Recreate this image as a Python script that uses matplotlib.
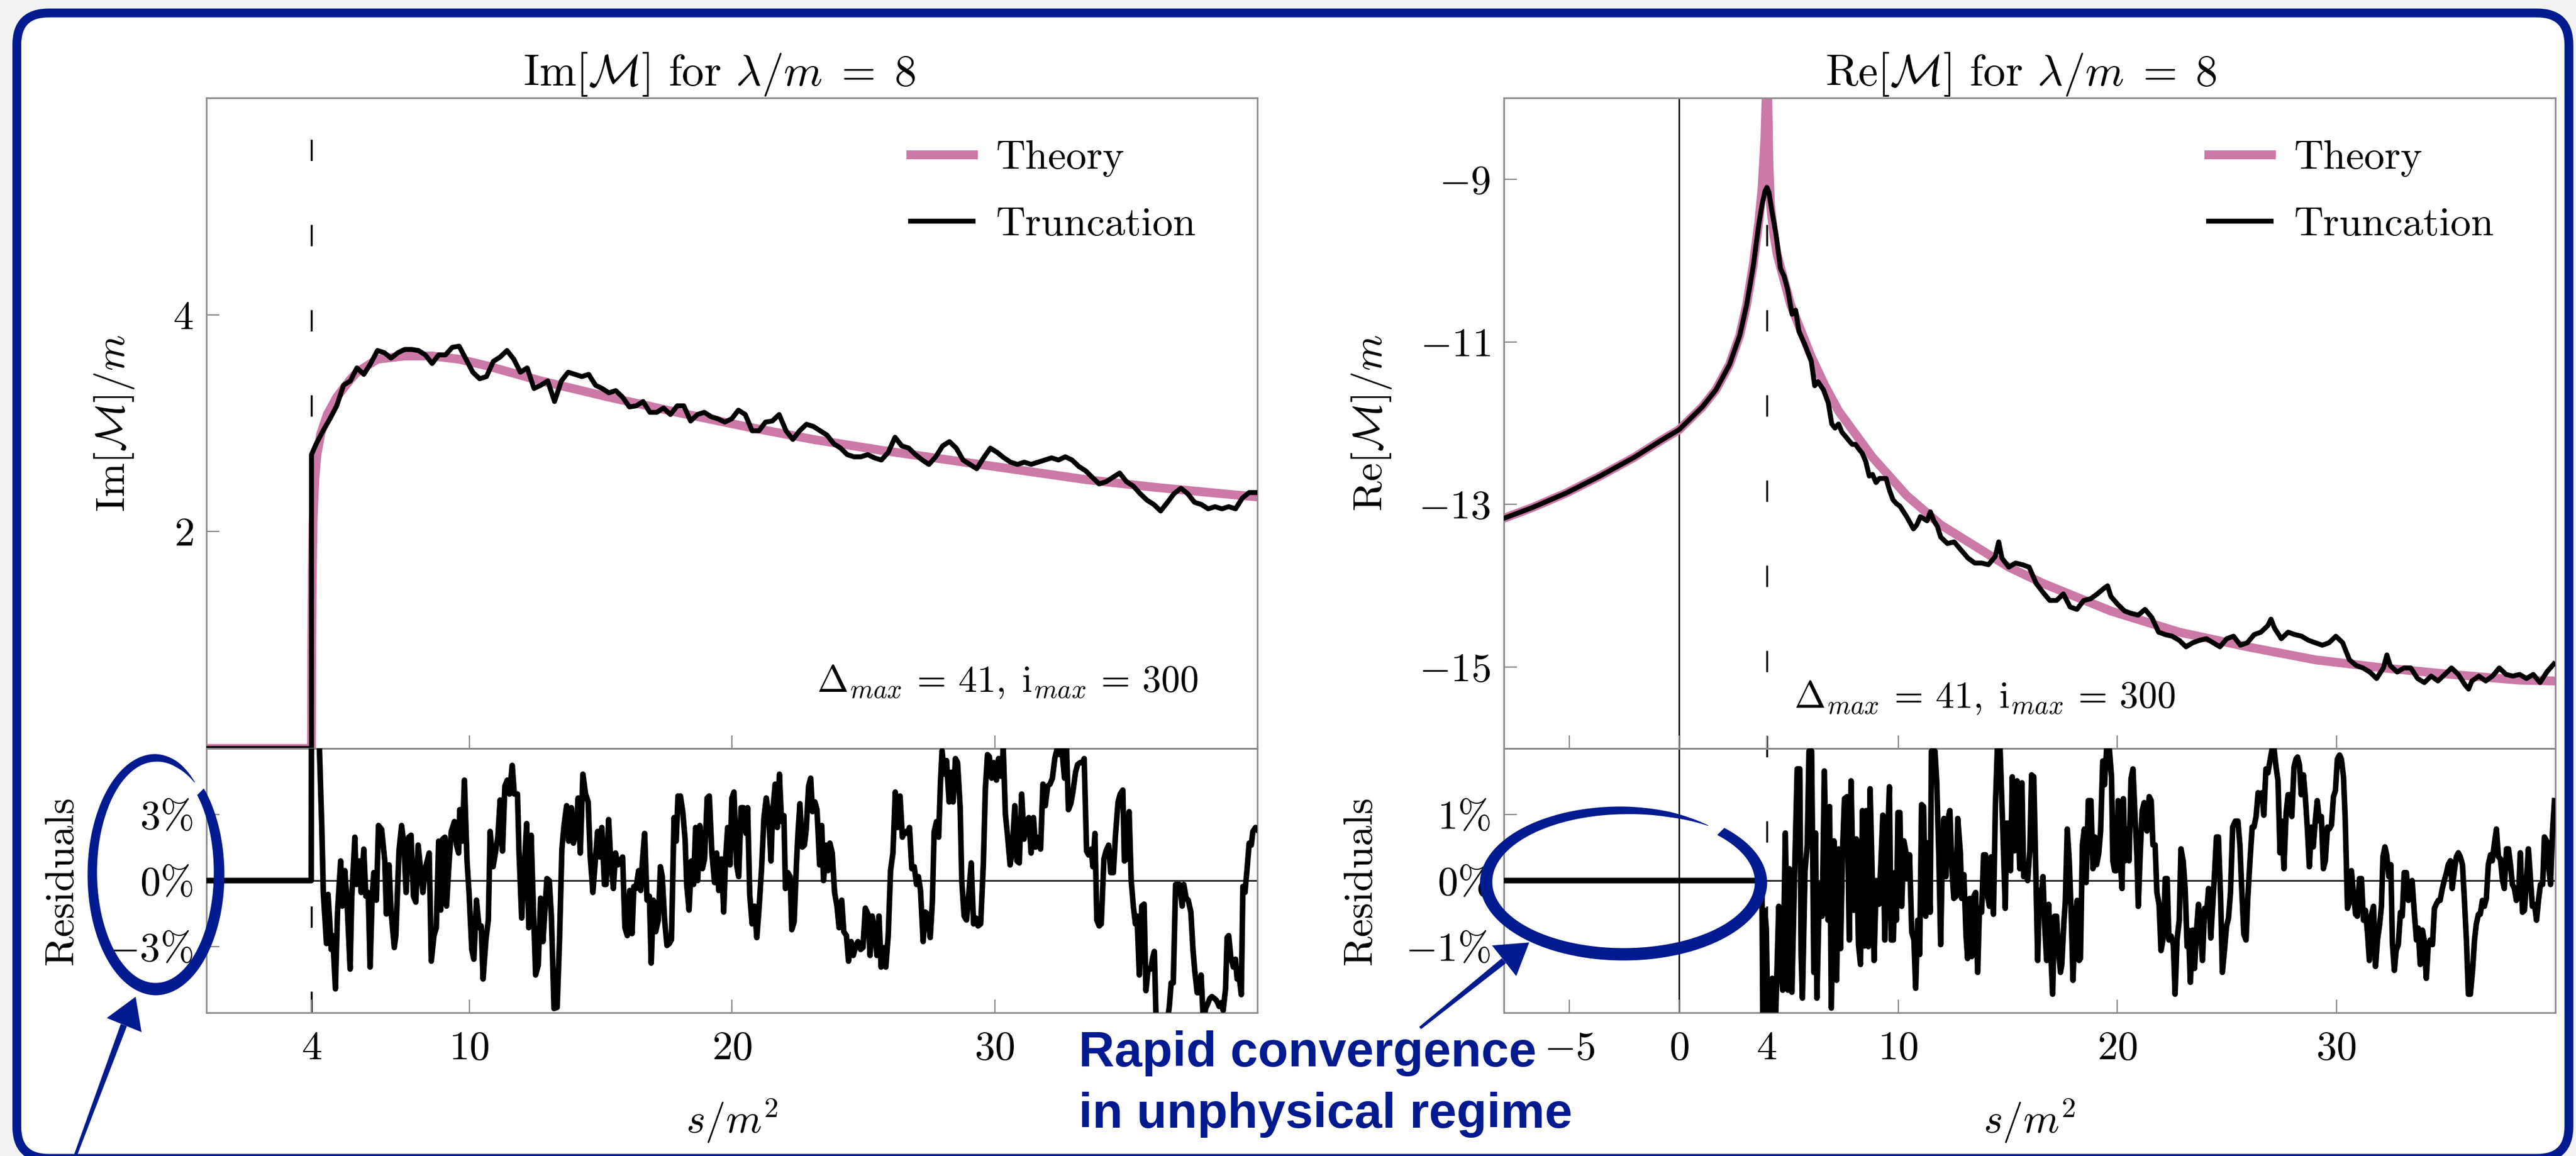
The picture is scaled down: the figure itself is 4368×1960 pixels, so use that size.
import numpy as np
import matplotlib
matplotlib.use("Agg")
import matplotlib.pyplot as plt
from matplotlib.patches import FancyBboxPatch, Polygon
from matplotlib.lines import Line2D
from matplotlib.transforms import blended_transform_factory

plt.rcParams['font.family'] = ['cmr10']
plt.rcParams['mathtext.fontset'] = 'cm'
plt.rcParams['axes.formatter.use_mathtext'] = True
plt.rcParams['lines.scale_dashes'] = False

PINK = '#cc79a7'
BLUE = '#001a8f'
GREY = '#8a8a8a'
FS = 25

# ---- Im[M]/m, lambda/m = 8 ----
S_IM_THEORY = [0.0, 4.0, 4.01, 4.03, 4.06, 4.12, 4.2, 4.35, 4.6, 4.96, 5.47, 5.73, 6.51,
               7.55, 8.58, 9.62, 10.66, 12.73, 15.32, 17.91, 20.50, 23.09, 25.69, 28.28,
               30.87, 33.46, 36.05, 38.64, 40.0]
IM_THEORY = [0.0, 0.0, 0.9, 1.6, 2.1, 2.45, 2.7, 2.9, 3.08, 3.24, 3.40, 3.47, 3.59,
             3.62, 3.62, 3.59, 3.53, 3.39, 3.24, 3.10, 2.97, 2.85, 2.75, 2.66,
             2.57, 2.48, 2.41, 2.35, 2.32]

S_IM_TRUNC = [0.0, 4.0, 4.0,
              4.18, 4.44, 4.70, 4.96, 5.22, 5.48, 5.73, 5.99, 6.25, 6.51, 6.77, 7.03, 7.29,
              7.55, 7.81, 8.07, 8.33, 8.59, 8.84, 9.10, 9.36, 9.62, 9.88, 10.14, 10.40,
              10.66, 10.92, 11.18, 11.44, 11.70, 11.95, 12.21, 12.47, 12.73, 12.99, 13.25,
              13.51, 13.77, 14.03, 14.29, 14.55, 14.81, 15.06, 15.32, 15.58, 15.84, 16.10,
              16.36, 16.62, 16.88, 17.14, 17.40, 17.66, 17.92, 18.17, 18.43, 18.69, 18.95,
              19.21, 19.47, 19.73, 19.99, 20.25, 20.51, 20.77, 21.03, 21.28, 21.54, 21.80,
              22.06, 22.32, 22.58, 22.84, 23.10, 23.36, 23.62, 23.88, 24.14, 24.39, 24.65,
              24.91, 25.17, 25.43, 25.69, 25.95, 26.21, 26.47, 26.73, 26.99, 27.25, 27.50,
              27.76, 28.02, 28.28, 28.54, 28.80, 29.06, 29.32, 29.58, 29.84, 30.10, 30.36,
              30.61, 30.87, 31.13, 31.39, 31.65, 31.91, 32.17, 32.43, 32.69, 32.95, 33.21,
              33.47, 33.72, 33.98, 34.24, 34.50, 34.76, 35.02, 35.28, 35.54, 35.80, 36.06,
              36.32, 36.58, 36.83, 37.09, 37.35, 37.61, 37.87, 38.13, 38.39, 38.65, 38.91,
              39.17, 39.43, 39.69, 39.94]
IM_TRUNC = [0.0, 0.0, 2.71,
            2.81, 2.93, 3.04, 3.16, 3.35, 3.39, 3.51, 3.45, 3.55, 3.67, 3.65, 3.60, 3.65,
            3.68, 3.68, 3.67, 3.63, 3.55, 3.63, 3.63, 3.70, 3.71, 3.59, 3.47, 3.41,
            3.43, 3.57, 3.61, 3.67, 3.59, 3.47, 3.51, 3.32, 3.35, 3.39, 3.20,
            3.39, 3.47, 3.45, 3.43, 3.45, 3.35, 3.32, 3.28, 3.30, 3.24, 3.15,
            3.16, 3.20, 3.10, 3.10, 3.14, 3.08, 3.16, 3.16, 3.02, 3.08, 3.10,
            3.06, 3.04, 3.01, 3.04, 3.12, 3.08, 2.93, 2.93, 3.01, 3.02, 3.08,
            2.93, 2.85, 2.93, 2.99, 2.97, 2.93, 2.89, 2.81, 2.77, 2.71, 2.69,
            2.69, 2.71, 2.68, 2.66, 2.73, 2.87, 2.79, 2.77, 2.71, 2.66, 2.62,
            2.69, 2.79, 2.83, 2.77, 2.66, 2.62, 2.58, 2.68, 2.77, 2.73, 2.68,
            2.64, 2.62, 2.64, 2.62, 2.64, 2.66, 2.68, 2.66, 2.69, 2.66, 2.60,
            2.56, 2.50, 2.44, 2.46, 2.50, 2.54, 2.46, 2.42, 2.35, 2.29, 2.25,
            2.19, 2.27, 2.35, 2.40, 2.35, 2.27, 2.25, 2.21, 2.23, 2.21, 2.23,
            2.21, 2.31, 2.36, 2.36]

# residuals in percent
S_IM_RES = [0.0, 3.99, 4.0, 4.25, 4.39, 4.45, 4.57, 4.63, 4.69, 4.75, 4.81, 4.91, 4.99,
            5.11, 5.17, 5.27, 5.35, 5.47, 5.53, 5.65, 5.71, 5.83, 5.89, 5.99, 6.07, 6.16,
            6.23, 6.31, 6.37, 6.47, 6.55, 6.67, 6.79, 6.85, 6.95, 7.03, 7.15, 7.21, 7.33,
            7.43, 7.52, 7.60, 7.70, 7.79, 7.88, 7.97, 8.06, 8.15, 8.24, 8.33, 8.48, 8.56,
            8.66, 8.75, 8.84, 8.92, 8.99, 9.08, 9.14, 9.23, 9.32, 9.44, 9.52, 9.60, 9.64,
            9.74, 9.82, 9.92, 10.00, 10.10, 10.18, 10.28, 10.38, 10.46, 10.53, 10.64,
            10.73, 10.80, 10.91, 11.00, 11.09, 11.18, 11.27, 11.36, 11.45, 11.54, 11.64,
            11.72, 11.84, 11.90, 12.00, 12.11, 12.19, 12.27, 12.36, 12.45, 12.53, 12.63,
            12.72, 12.81, 12.87, 12.96, 13.05, 13.13, 13.23, 13.35, 13.44, 13.53, 13.61,
            13.71, 13.79, 13.89, 13.97, 14.07, 14.15, 14.23, 14.33, 14.43, 14.53, 14.61,
            14.71, 14.79, 14.89, 14.97, 15.05, 15.15, 15.21, 15.31, 15.39, 15.49, 15.57,
            15.66, 15.75, 15.84, 15.93, 16.02, 16.11, 16.20, 16.27, 16.35, 16.45, 16.53,
            16.59, 16.68, 16.77, 16.86, 16.93, 17.01, 17.10, 17.20, 17.28, 17.35, 17.44,
            17.53, 17.62, 17.70, 17.80, 17.88, 17.95, 18.04, 18.13, 18.22, 18.28, 18.37,
            18.46, 18.54, 18.62, 18.70, 18.78, 18.88, 18.96, 19.06, 19.14, 19.24, 19.34,
            19.42, 19.50, 19.60, 19.69, 19.76, 19.84, 19.93, 20.00, 20.08, 20.18, 20.26,
            20.35, 20.44, 20.54, 20.60, 20.68, 20.77, 20.86, 20.95, 21.04, 21.13, 21.22,
            21.31, 21.40, 21.49, 21.55, 21.65, 21.73, 21.81, 21.89, 21.98, 22.04, 22.13,
            22.22, 22.28, 22.37, 22.46, 22.52, 22.59, 22.68, 22.76, 22.83, 22.92, 23.00,
            23.07, 23.16, 23.24, 23.34, 23.42, 23.49, 23.58, 23.66, 23.73, 23.82, 23.91,
            24.00, 24.08, 24.18, 24.26, 24.36, 24.44, 24.54, 24.62, 24.72, 24.80, 24.90,
            24.99, 25.08, 25.18, 25.26, 25.34, 25.44, 25.52, 25.60, 25.68, 25.76, 25.86,
            25.95, 26.04, 26.13, 26.22, 26.31, 26.40, 26.49, 26.58, 26.68, 26.76, 26.85,
            26.94, 27.03, 27.10, 27.18, 27.28, 27.36, 27.45, 27.55, 27.63, 27.70, 27.79,
            27.87, 27.94, 28.00, 28.09, 28.17, 28.27, 28.35, 28.42, 28.51, 28.59, 28.69,
            28.75, 28.84, 28.93, 29.01, 29.11, 29.20, 29.29, 29.37, 29.47, 29.57, 29.65,
            29.73, 29.80, 29.89, 29.97, 30.07, 30.15, 30.25, 30.33, 30.41, 30.49, 30.59,
            30.67, 30.77, 30.85, 30.94, 31.03, 31.12, 31.21, 31.30, 31.39, 31.48, 31.56,
            31.66, 31.75, 31.84, 31.93, 32.02, 32.11, 32.20, 32.29, 32.38, 32.48, 32.56,
            32.66, 32.74, 32.81, 32.90, 32.98, 33.08, 33.16, 33.26, 33.34, 33.41, 33.50,
            33.58, 33.68, 33.74, 33.82, 33.89, 33.98, 34.06, 34.16, 34.24, 34.34, 34.42,
            34.52, 34.60, 34.70, 34.78, 34.88, 34.94, 35.02, 35.12, 35.20, 35.28, 35.36,
            35.42, 35.51, 35.60, 35.69, 35.76, 35.84, 35.94, 36.02, 36.08, 36.14, 36.20,
            36.56, 36.65, 36.72, 36.80, 36.89, 36.96, 37.04, 37.14, 37.20, 37.29, 37.37,
            37.47, 37.55, 37.62, 37.71, 37.79, 37.86, 37.95, 38.03, 38.10, 38.19, 38.27,
            38.37, 38.45, 38.55, 38.63, 38.70, 38.79, 38.85, 38.91, 38.99, 39.09, 39.17,
            39.23, 39.31, 39.39, 39.45, 39.53, 39.61, 39.69, 39.77, 39.83, 39.93, 39.99]
IM_RES = [0.0, 0.0, 8.0, 8.0, 2.50, -0.54, -2.86, -0.63, -1.79, -3.13, -2.50, -4.92, -1.43,
          0.89, -1.16, 0.45, -0.89, -4.02, -0.80, 1.97, -0.18, 0.89, -0.54, 1.43, -0.71, -0.54,
          -3.93, -0.71, 0.36, -0.89, 2.50, 2.32, 0.89, -1.52, 0.71, -1.43, -3.04, -2.50, 1.34,
          2.50, 1.61, -0.54, 1.97, 2.06, -0.71, -0.98, 1.61, 0.54, -0.54, 0.54, 1.25, -3.66,
          -2.50, -2.14, 1.79, -1.34, 1.88, 1.97, -1.16, 0.71, 2.23, 2.68, 1.61, 1.25, 3.22,
          1.79, 4.56, 0.89, -0.63, -3.13, -3.57, -0.89, -2.14, -2.06, -4.47, -2.68,
          -1.79, 2.23, 0.63, 1.25, 1.97, 3.66, 1.34, 4.29, 4.56, 3.93, 5.23,
          3.93, 3.93, 1.25, -1.70, 0.89, 2.59, -2.14, 2.06, -1.43, -4.29, -3.84,
          -0.80, -2.77, -1.61, 0.09, 0.0, -1.61, -5.81, -5.76, -2.68, 1.43, 2.50,
          3.40, 1.79, 3.31, 1.70, 2.23, 3.75, 1.25, 4.83, 3.93, 3.57, 1.07,
          -0.54, 0.71, 2.23, 1.07, 2.41, -0.18, -0.18, 2.77, 0.89, -0.36, 1.25,
          0.71, 0.89, 1.07, -2.14, -2.50, -0.45, -2.41, -0.27, -0.36, 0.45, -0.45,
          0.80, 2.14, -0.89, -0.71, -3.75, -0.89, -2.32, -1.79, 0.63, 0.18, -1.79,
          -2.95, -2.86, -2.68, 2.86, 1.79, 3.84, 3.84, 3.13, 1.88, -0.18, -1.34,
          0.89, -0.18, 2.41, 0.0, 2.50, 0.54, 0.98, 3.75, 3.84, 1.25, -0.09,
          1.25, -0.45, 0.98, -1.43, 0.98, 2.41, 0.71, 3.75, 4.02, 0.71, 0.18,
          3.31, 3.31, 2.14, 3.31, -0.63, -1.97, -1.16, -2.59, -1.16, 0.54, 2.86,
          3.75, 2.95, 0.89, 3.13, 4.38, 2.41, 4.83, 2.68, 2.95, -0.36, 0.36,
          0.18, -2.23, -1.88, 0.80, 2.23, 3.49, 1.52, 1.61, 2.32, 4.29, 4.65,
          3.13, 3.57, 3.22, 0.71, 2.50, 0.0, 1.61, 0.45, 1.70, 1.25, -0.54,
          -1.16, -2.14, -0.89, -2.32, -2.50, -3.66, -2.77, -3.40, -2.95, -2.77, -3.13,
          -3.04, -1.25, -1.52, -3.40, -1.61, -2.32, -3.40, -1.61, -3.93, -3.04, -3.93,
          -2.50, 0.45, 1.25, 4.02, 2.41, 3.84, 1.97, 2.23, 2.14, 2.41, 0.54,
          0.63, -0.18, 0.18, -0.45, -2.77, -1.43, -1.52, -2.59, -0.98, 2.23, 2.68,
          1.97, 4.47, 5.90, 4.83, 5.45, 3.57, 4.92, 3.57, 5.54, 5.36, 3.31,
          0.0, -1.61, -1.79, -0.71, 0.80, -1.97, -1.70, -2.06, -1.97, 0.71, 4.20,
          5.72, 5.63, 4.65, 5.36, 4.56, 5.54, 4.74, 5.99, 3.04, 2.06, 0.71,
          1.34, 3.40, 0.89, 0.80, 3.93, 1.88, 2.68, 2.86, 1.25, 2.86, 1.52,
          1.97, 1.43, 4.38, 3.40, 4.29, 4.38, 4.65, 5.54, 5.99, 5.72, 5.99,
          4.65, 5.99, 3.22, 3.49, 4.02, 4.92, 5.27, 5.36, 5.36, 5.54, 1.34,
          1.16, 1.43, 0.63, 2.14, -1.79, -2.06, -1.97, 0.98, 1.34, 1.61, 0.36,
          0.36, 2.06, 3.57, 3.93, 4.11, 0.89, 0.98, 3.13, 0.0, -1.16, -1.97,
          -1.61, -4.29, -1.16, -1.07, -5.00, -4.02, -4.02, -3.49, -3.22, -5.99, -6.5,
          -6.5, -5.72, -4.65, -4.65, -0.18, -0.18, -0.18, -1.16, -0.18, -0.80, -0.89,
          -1.43, -3.13, -4.11, -5.09, -5.09, -4.29, -6.5, -5.81, -5.63, -5.36, -5.27,
          -5.36, -5.45, -5.72, -5.54, -5.90, -4.92, -2.59, -2.50, -3.49, -3.93, -3.57,
          -4.47, -4.38, -5.18, -0.27, -0.54, 0.54, 1.70, 1.61, 2.23, 2.41, 2.32]

# ---- Re[M]/m, lambda/m = 8 ----
S_RE_THEORY = [-8.0, -6.72, -5.16, -3.61, -2.05, -0.81, 0.0, 1.06, 1.68, 2.30, 2.77, 3.08,
               3.39, 3.64, 3.79, 3.92, 3.97, 4.0, 4.05, 4.10, 4.17, 4.32, 4.48, 4.79, 5.10,
               5.41, 6.03, 6.66, 7.28, 8.83, 10.39, 11.94, 13.50, 15.05, 16.61, 19.71,
               22.83, 25.94, 29.04, 32.15, 35.26, 38.37, 40.0]
RE_THEORY = [-13.17, -13.04, -12.86, -12.65, -12.42, -12.21, -12.08, -11.80, -11.59, -11.28,
             -10.92, -10.55, -10.04, -9.52, -9.10, -8.48, -8.0, -6.5, -8.0, -8.8, -9.31,
             -9.67, -9.93, -10.24, -10.55, -10.76, -11.18, -11.54, -11.85, -12.42, -12.89,
             -13.25, -13.51, -13.77, -13.97, -14.31, -14.57, -14.75, -14.91, -15.01, -15.09,
             -15.16, -15.17]

S_RE_TRUNC = [-8.0, -6.72, -5.16, -3.61, -2.05, -0.81, 0.0, 1.06, 1.68, 2.30, 2.77, 3.08,
              3.39, 3.64, 3.79, 3.92, 4.01, 4.10, 4.23, 4.42, 4.63, 4.79, 4.95, 5.16, 5.32,
              5.47, 5.72, 5.88, 6.03, 6.19, 6.34, 6.59, 6.81, 6.97, 7.12, 7.28, 7.43, 7.59,
              7.74, 7.90, 8.05, 8.21, 8.36, 8.52, 8.68, 8.83, 8.99, 9.14, 9.30, 9.45, 9.61,
              9.76, 9.92, 10.08, 10.39, 10.70, 10.85, 11.01, 11.32, 11.47, 11.63, 11.79,
              11.94, 12.25, 12.56, 12.87, 13.19, 13.50, 13.81, 14.12, 14.43, 14.59, 14.74,
              15.05, 15.36, 15.67, 15.98, 16.30, 16.61, 16.92, 17.23, 17.54, 17.85, 18.16,
              18.47, 18.78, 19.09, 19.40, 19.56, 19.71, 20.03, 20.34, 20.65, 20.96, 21.27,
              21.58, 21.89, 22.20, 22.51, 22.83, 23.14, 23.45, 23.76, 24.07, 24.38, 24.69,
              25.00, 25.31, 25.62, 25.94, 26.25, 26.56, 26.87, 27.02, 27.18, 27.49, 27.80,
              28.11, 28.42, 28.73, 29.04, 29.36, 29.67, 29.98, 30.29, 30.60, 30.91, 31.22,
              31.53, 31.84, 32.15, 32.31, 32.46, 32.78, 33.09, 33.40, 33.71, 34.02, 34.33,
              34.64, 34.95, 35.26, 35.57, 35.88, 36.04, 36.19, 36.51, 36.82, 37.13, 37.44,
              37.75, 38.06, 38.37, 38.68, 38.99, 39.30, 39.61, 39.93]
RE_TRUNC = [-13.17, -13.04, -12.86, -12.65, -12.42, -12.21, -12.08, -11.80, -11.59, -11.28,
            -10.92, -10.55, -10.06, -9.55, -9.31, -9.15, -9.10, -9.16, -9.38, -9.67, -10.10,
            -10.19, -10.35, -10.66, -10.61, -10.87, -11.02, -11.13, -11.23, -11.54, -11.49,
            -11.59, -11.75, -12.01, -12.06, -12.01, -12.11, -12.16, -12.21, -12.26, -12.26,
            -12.32, -12.37, -12.47, -12.65, -12.63, -12.73, -12.68, -12.68, -12.68, -12.83,
            -12.94, -12.99, -13.02, -13.15, -13.30, -13.25, -13.15, -13.20, -13.09, -13.20,
            -13.27, -13.40, -13.48, -13.46, -13.56, -13.66, -13.72, -13.72, -13.74, -13.64,
            -13.46, -13.66, -13.77, -13.72, -13.74, -13.77, -13.97, -14.08, -14.18, -14.18,
            -14.10, -14.26, -14.29, -14.18, -14.16, -14.10, -14.03, -14.00, -14.13, -14.23,
            -14.31, -14.34, -14.36, -14.29, -14.39, -14.57, -14.60, -14.62, -14.67, -14.75,
            -14.70, -14.67, -14.65, -14.70, -14.75, -14.65, -14.62, -14.73, -14.70, -14.60,
            -14.57, -14.49, -14.41, -14.52, -14.65, -14.57, -14.60, -14.62, -14.67, -14.70,
            -14.73, -14.70, -14.62, -14.70, -14.91, -14.98, -15.01, -15.06, -15.14, -15.01,
            -14.85, -14.98, -15.06, -15.01, -15.01, -15.14, -15.19, -15.11, -15.17, -15.09,
            -15.01, -15.09, -15.22, -15.27, -15.17, -15.11, -15.17, -15.11, -15.01, -15.09,
            -15.11, -15.09, -15.14, -15.09, -15.19, -15.06, -14.96]

S_RE_RES = [-8.0, 3.78, 3.83, 3.91, 3.98, 4.07, 4.25, 4.37, 4.55, 4.63, 4.73, 4.85, 4.97,
            5.03, 5.15, 5.27, 5.39, 5.51, 5.57, 5.63, 5.75, 5.85, 5.93, 6.05, 6.15, 6.23,
            6.29, 6.41, 6.53, 6.63, 6.71, 6.80, 6.87, 6.95, 7.07, 7.19, 7.28, 7.37, 7.47,
            7.55, 7.67, 7.77, 7.85, 7.97, 8.09, 8.19, 8.28, 8.37, 8.46, 8.55, 8.64, 8.72,
            8.82, 8.90, 9.00, 9.12, 9.20, 9.30, 9.39, 9.48, 9.60, 9.68, 9.78, 9.85, 9.92,
            9.99, 10.08, 10.16, 10.26, 10.36, 10.44, 10.52, 10.62, 10.72, 10.80, 10.89,
            10.98, 11.07, 11.16, 11.26, 11.34, 11.46, 11.52, 11.68, 11.76, 11.86, 11.94,
            12.00, 12.09, 12.18, 12.28, 12.36, 12.46, 12.54, 12.64, 12.72, 12.84, 12.90,
            13.00, 13.10, 13.17, 13.27, 13.36, 13.45, 13.54, 13.63, 13.71, 13.81, 13.90,
            13.99, 14.08, 14.17, 14.25, 14.35, 14.44, 14.53, 14.65, 14.77, 14.89, 14.95,
            15.03, 15.13, 15.21, 15.31, 15.43, 15.55, 15.65, 15.73, 15.82, 15.91, 16.01,
            16.09, 16.19, 16.27, 16.37, 16.45, 16.51, 16.61, 16.69, 16.78, 16.87, 16.97,
            17.05, 17.14, 17.23, 17.32, 17.41, 17.47, 17.57, 17.63, 17.72, 17.81, 17.90,
            17.98, 18.08, 18.17, 18.26, 18.32, 18.41, 18.50, 18.58, 18.68, 18.80, 18.89,
            18.98, 19.06, 19.16, 19.24, 19.34, 19.42, 19.52, 19.64, 19.74, 19.80, 19.88,
            19.96, 20.04, 20.12, 20.22, 20.28, 20.36, 20.45, 20.54, 20.63, 20.72, 20.81,
            20.90, 20.96, 21.05, 21.14, 21.23, 21.36, 21.46, 21.55, 21.63, 21.73, 21.81,
            21.91, 22.00, 22.10, 22.19, 22.28, 22.36, 22.46, 22.56, 22.64, 22.73, 22.83,
            22.91, 23.01, 23.10, 23.19, 23.25, 23.34, 23.44, 23.53, 23.62, 23.71, 23.80,
            23.89, 23.99, 24.07, 24.17, 24.27, 24.35, 24.44, 24.53, 24.62, 24.72, 24.80,
            24.90, 24.99, 25.08, 25.17, 25.27, 25.39, 25.51, 25.60, 25.69, 25.78, 25.88,
            25.96, 26.06, 26.16, 26.24, 26.34, 26.43, 26.51, 26.61, 26.69, 26.79, 26.88,
            26.97, 27.07, 27.16, 27.25, 27.34, 27.43, 27.52, 27.61, 27.71, 27.80, 27.89,
            27.97, 28.07, 28.16, 28.23, 28.32, 28.40, 28.50, 28.58, 28.68, 28.77, 28.86,
            28.95, 29.05, 29.13, 29.23, 29.32, 29.41, 29.50, 29.60, 29.68, 29.78, 29.87,
            29.96, 30.05, 30.15, 30.23, 30.33, 30.41, 30.51, 30.60, 30.69, 30.78, 30.88,
            30.96, 31.06, 31.15, 31.24, 31.33, 31.43, 31.51, 31.61, 31.70, 31.79, 31.88,
            31.98, 32.06, 32.13, 32.22, 32.30, 32.40, 32.49, 32.56, 32.65, 32.73, 32.83,
            32.93, 33.01, 33.10, 33.20, 33.29, 33.38, 33.46, 33.56, 33.66, 33.74, 33.83,
            33.93, 34.01, 34.11, 34.20, 34.29, 34.39, 34.48, 34.56, 34.66, 34.74, 34.84,
            34.93, 35.03, 35.11, 35.21, 35.29, 35.39, 35.48, 35.57, 35.66, 35.76, 35.84,
            35.94, 36.03, 36.12, 36.22, 36.31, 36.39, 36.49, 36.57, 36.67, 36.76, 36.85,
            36.94, 37.04, 37.12, 37.22, 37.31, 37.40, 37.49, 37.59, 37.67, 37.77, 37.86,
            37.95, 38.04, 38.13, 38.22, 38.32, 38.40, 38.50, 38.59, 38.68, 38.77, 38.87,
            38.95, 39.05, 39.14, 39.23, 39.32, 39.42, 39.50, 39.60, 39.68, 39.78, 39.87,
            39.96]
RE_RES = [0.0, 0.0, -2.5, -0.45, -0.72, -2.5, -1.48, -2.5, -0.39, -1.21, -1.66, 0.72, -1.66,
          0.18, -1.69, 0.06, 1.69, 1.69, -1.12, -1.78, 0.15, 0.54, 1.96, 1.96, -1.39, 0.72,
          -1.78, -0.06, -0.54, 1.66, 0.30, -0.60, 1.12, -1.93, 0.60, -1.51, 0.48, -1.03, 0.54,
          1.24, 1.27, -0.90, 1.51, -0.45, 0.63, -0.97, -1.27, 1.06, -0.99, 1.06, -1.00, 1.39,
          0.0, -1.21, 0.0, -0.36, 0.18, 0.99, -0.90, 0.30, 1.42, -0.90, -0.90, 0.12, -0.60,
          1.03, 1.03, -0.39, 0.60, 0.42, 0.03, 0.39, -0.78, -0.90, -1.63, -0.60,
          -1.12, 1.15, 1.12, -0.54, 0.57, -0.48, 1.96, 1.96, 1.51, 0.33, -0.97,
          0.12, 0.94, 0.06, 0.94, 1.06, 0.15, -0.27, -0.24, 0.94, 0.42, -0.27,
          0.09, -0.84, -1.18, -0.27, -1.15, -0.24, -0.18, -1.39, -0.42, -0.48, 0.39,
          0.39, -0.24, -0.39, 0.36, -0.51, 1.15, 2.02, 2.02, 0.84, -0.42, 0.87,
          0.87, 0.15, 1.57, 0.45, 1.51, 0.18, 1.48, 0.06, 0.24, 0.0, 0.45,
          1.60, 1.57, 0.33, -1.21, -0.15, -0.36, 0.06, -0.69, -1.21, -0.36, -1.12,
          -1.72, -0.54, -0.54, -1.06, -1.39, -1.27, -0.60, -0.33, 0.78, 0.30, -0.51,
          -1.51, -0.60, -0.30, -1.21, -1.18, 0.54, 0.78, -0.03, 1.21, 1.21, 0.18,
          0.66, 0.24, 0.42, 0.75, 1.81, 1.45, 2.02, 1.99, 1.57, 0.30, 0.15,
          0.15, 1.21, 0.42, -0.12, 1.24, 0.30, 0.78, 0.30, 1.54, 1.69, 0.99,
          0.36, -0.39, 0.42, 1.06, 1.18, 0.75, 1.27, 1.21, 0.54, 0.54, -0.18,
          -0.36, -1.06, -0.87, 0.03, 0.03, -0.90, -0.84, -0.97, -1.72, -0.90, -0.60,
          0.48, 0.30, -0.12, -1.00, -0.75, -1.54, -0.75, -1.33, -0.75, -0.36, -0.75,
          -1.21, -0.42, -0.54, -0.12, -0.87, -0.42, 0.09, 0.66, 0.66, -0.27, -1.39,
          -1.03, -0.69, -0.57, -0.18, 0.81, 0.90, 0.90, 0.54, -0.18, -0.81, -0.90,
          -0.27, 0.30, 0.81, 0.81, 0.97, 1.33, 1.21, 1.33, 0.99, 1.69, 1.63,
          1.81, 1.99, 1.99, 1.72, 1.51, 0.42, 0.90, 0.18, 1.03, 1.30, 1.30,
          0.97, 1.72, 1.84, 1.87, 1.75, 1.30, 1.60, 1.30, 0.78, 0.21, 0.81,
          0.51, 0.94, 1.21, 0.90, 0.97, 0.18, 0.30, 0.81, 0.78, 0.84, 1.27,
          1.36, 1.84, 1.90, 1.84, 1.57, 0.90, -0.42, -0.33, 0.15, -0.18, -0.51,
          -0.54, 0.03, 0.03, -0.60, -0.45, -0.81, -1.21, -0.51, -0.39, -1.30, -0.90,
          -0.66, -0.39, 0.36, 0.51, 0.39, 0.06, 0.24, -0.94, -1.36, -1.06, -0.97,
          -0.48, -0.54, 0.12, 0.12, -0.30, -0.18, 0.0, -0.48, -0.90, -0.72, -1.27,
          -0.75, -0.90, -1.48, -0.97, -0.90, -0.97, -0.42, -0.36, -0.30, -0.30, -0.12,
          0.0, 0.12, 0.24, 0.30, -0.12, 0.15, 0.36, 0.42, 0.36, 0.24, -0.24,
          -0.90, -1.72, -1.72, -1.36, -0.90, -0.66, -0.51, -0.51, -0.30, -0.39, -0.27,
          0.24, 0.39, 0.30, 0.57, 0.78, 0.36, 0.33, 0.0, -0.12, 0.48, 0.48,
          0.24, -0.06, -0.12, -0.30, -0.24, 0.42, -0.48, -0.45, 0.0, 0.48, 0.0,
          -0.39, -0.36, -0.60, -0.30, -0.06, -0.06, 0.66, 0.60, 0.24, -0.06, 0.75,
          1.21]

W, H, DPI = 4368, 1960, 200
fig = plt.figure(figsize=(W / DPI, H / DPI), dpi=DPI, facecolor='#f2f2f2')


def px(x, y):
    """pixel position (origin top-left) -> inches for dpi_scale_trans"""
    return x / DPI, (H - y) / DPI


# rounded blue frame
x0, y0 = px(28.5, 1964)
frame = FancyBboxPatch((x0, y0), (4356 - 28.5) / DPI, (1964 - 22) / DPI,
                       boxstyle='round,pad=0,rounding_size=0.27',
                       transform=fig.dpi_scale_trans, fc='white', ec=BLUE, lw=5.4,
                       zorder=-5)
fig.add_artist(frame)

ax_im = fig.add_axes([350 / W, 1 - 1269 / H, 1782 / W, 1103 / H])
ax_im_res = fig.add_axes([350 / W, 1 - 1717 / H, 1782 / W, 448 / H], sharex=ax_im)
ax_re = fig.add_axes([2550 / W, 1 - 1269 / H, 1783 / W, 1103 / H])
ax_re_res = fig.add_axes([2550 / W, 1 - 1717 / H, 1783 / W, 448 / H], sharex=ax_re)

for ax in (ax_im, ax_im_res, ax_re, ax_re_res):
    ax.set_facecolor('none')
    for sp in ax.spines.values():
        sp.set_color(GREY)
        sp.set_linewidth(1.0)
    ax.tick_params(direction='in', length=8, width=0.8, color=GREY, labelsize=FS,
                   top=False, right=False)
    ax.tick_params(axis='x', pad=11)
    ax.tick_params(axis='y', pad=8)

# threshold s = 4m^2, dashed across both rows
for ax_bot in (ax_im_res, ax_re_res):
    tr = blended_transform_factory(ax_bot.transData, fig.transFigure)
    fig.add_artist(Line2D([4, 4], [1 - 1717 / H, 1 - 166 / H], transform=tr,
                          color='black', lw=1.2, linestyle=(0, (13, 39)), zorder=-1))

annot = r'$\Delta_{max}\,=\,41,\;\mathrm{i}_{max}\,=\,300$'
TITLE_FS = 27

# Im panel
ax_im.plot(S_IM_THEORY, IM_THEORY, color=PINK, lw=5.4, label='Theory', zorder=2)
ax_im.plot(S_IM_TRUNC, IM_TRUNC, color='black', lw=3.0, label='Truncation', zorder=3)
ax_im.set_xlim(0, 40)
ax_im.set_ylim(0, 6)
ax_im.set_yticks([2, 4], labels=[r'$2$', r'$4$'])
ax_im.tick_params(axis='x', labelbottom=False)
ax_im.set_title(r'$\mathrm{Im}[\mathcal{M}]$ for $\lambda/m\;=\;8$', fontsize=TITLE_FS,
                pad=4, x=0.488)
ax_im.set_ylabel(r'$\mathrm{Im}[\mathcal{M}]/m$', fontsize=FS)
ax_im.yaxis.set_label_coords(-0.067, 0.5)
ax_im.text(0.944, 0.103, annot, transform=ax_im.transAxes, ha='right', va='center',
           fontsize=23)

ax_im_res.plot(S_IM_RES, IM_RES, color='black', lw=3.4, zorder=3)
ax_im_res.axhline(0, color='#222222', lw=1.0, zorder=2)
ax_im_res.set_ylim(-6, 6)
ax_im_res.set_yticks([-3, 0, 3], labels=[r'$-3\%$', r'$0\%$', r'$3\%$'])
ax_im_res.set_xticks([4, 10, 20, 30], labels=[r'$4$', r'$10$', r'$20$', r'$30$'])
ax_im_res.set_ylabel('Residuals', fontsize=FS)
ax_im_res.yaxis.set_label_coords(-0.12, 0.5)
ax_im_res.set_xlabel(r'$s/m^2$', fontsize=FS)
ax_im_res.xaxis.set_label_coords(0.5, -0.32)

# Re panel
ax_re.plot(S_RE_THEORY, RE_THEORY, color=PINK, lw=5.4, label='Theory', zorder=2)
ax_re.plot(S_RE_TRUNC, RE_TRUNC, color='black', lw=3.0, label='Truncation', zorder=3)
ax_re.axvline(0, color='black', lw=0.9, zorder=1)
ax_re.set_xlim(-8, 40)
ax_re.set_ylim(-16, -8)
ax_re.set_yticks([-15, -13, -11, -9], labels=[r'$-15$', r'$-13$', r'$-11$', r'$-9$'])
ax_re.tick_params(axis='x', labelbottom=False)
ax_re.set_title(r'$\mathrm{Re}[\mathcal{M}]$ for $\lambda/m\;=\;8$', fontsize=TITLE_FS,
                pad=4, x=0.492)
ax_re.set_ylabel(r'$\mathrm{Re}[\mathcal{M}]/m$', fontsize=FS)
ax_re.yaxis.set_label_coords(-0.105, 0.5)
ax_re.text(0.276, 0.078, annot, transform=ax_re.transAxes, ha='left', va='center',
           fontsize=23)

ax_re_res.plot(S_RE_RES, RE_RES, color='black', lw=3.4, zorder=3)
ax_re_res.axhline(0, color='#222222', lw=1.0, zorder=2)
ax_re_res.axvline(0, color='black', lw=0.9, zorder=1)
ax_re_res.set_ylim(-2, 2)
ax_re_res.set_yticks([-1, 0, 1], labels=[r'$-1\%$', r'$0\%$', r'$1\%$'])
ax_re_res.set_xticks([-5, 0, 4, 10, 20, 30],
                     labels=[r'$-5$', r'$0$', r'$4$', r'$10$', r'$20$', r'$30$'])
ax_re_res.set_ylabel('Residuals', fontsize=FS)
ax_re_res.yaxis.set_label_coords(-0.119, 0.5)
ax_re_res.set_xlabel(r'$s/m^2$', fontsize=FS)
ax_re_res.xaxis.set_label_coords(0.5, -0.32)

for ax in (ax_im, ax_re):
    ax.legend(loc='upper right', bbox_to_anchor=(0.9416, 0.935), frameon=False,
              fontsize=FS, handlelength=1.53, handletextpad=0.55, labelspacing=0.72,
              borderpad=0, borderaxespad=0)


# hand-drawn style highlight rings and arrows
def ring(cx, cy, a, b, t_knots, w_knots):
    t = np.linspace(t_knots[0], t_knots[-1], 500)
    w = np.interp(t, t_knots, w_knots)
    tr = np.radians(t)
    ox, oy = cx + (a + w / 2) * np.cos(tr), cy - (b + w / 2) * np.sin(tr)
    ix, iy = cx + (a - w / 2) * np.cos(tr), cy - (b - w / 2) * np.sin(tr)
    xs = np.concatenate([ox, ix[::-1]])
    ys = np.concatenate([oy, iy[::-1]])
    pts = np.column_stack([xs / DPI, (H - ys) / DPI])
    fig.add_artist(Polygon(pts, closed=True, transform=fig.dpi_scale_trans,
                           fc=BLUE, ec='none', zorder=5))


def arrow(tail, base, tip, c1, c2, w0, w1):
    tail, base = np.array(tail, float), np.array(base, float)
    d = (base - tail) / np.hypot(*(base - tail))
    n = np.array([-d[1], d[0]])
    shaft = [tail + n * w0 / 2, base + n * w1 / 2, base - n * w1 / 2, tail - n * w0 / 2]
    for pts in (shaft, [c1, tip, c2]):
        pts = np.array(pts, float)
        pts = np.column_stack([pts[:, 0] / DPI, (H - pts[:, 1]) / DPI])
        fig.add_artist(Polygon(pts, closed=True, transform=fig.dpi_scale_trans,
                               fc=BLUE, ec='none', zorder=5))


ring(264, 1481, 107.5, 196, [52, 70, 90, 180, 270, 360, 405], [1, 9, 13, 16, 21, 18, 16])
ring(2753, 1496, 233, 122, [52, 70, 90, 180, 270, 360, 405], [1, 9, 13, 21, 21, 21, 17])
arrow((122, 1975), (210, 1738), (230, 1690), (181, 1726), (240, 1750), 5, 11)
arrow((2408, 1743), (2550, 1629), (2593, 1598), (2530, 1603), (2571, 1655), 5, 11)

fig.text(1829 / W, 1 - 1808 / H, 'Rapid convergence', color=BLUE, fontsize=30.3,
         fontweight='bold', family='Liberation Sans', ha='left', va='baseline')
fig.text(1829 / W, 1 - 1912 / H, 'in unphysical regime', color=BLUE, fontsize=30.3,
         fontweight='bold', family='Liberation Sans', ha='left', va='baseline')

fig.savefig('out.png', dpi=DPI, facecolor=fig.get_facecolor())
